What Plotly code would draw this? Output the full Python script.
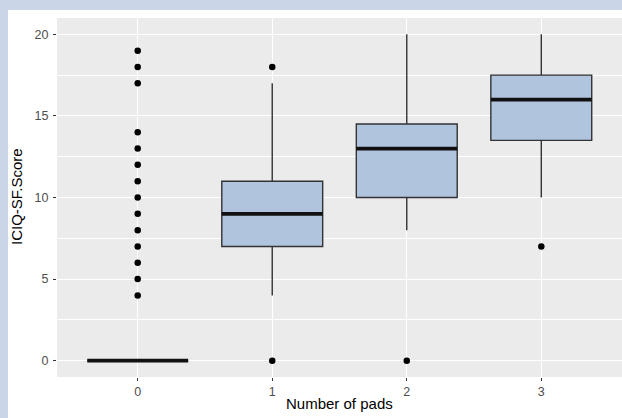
import plotly.graph_objects as go

categories = [0, 1, 2, 3]
tick_labels = ["0", "1", "2", "3"]
q1 = [0, 7, 10, 13.5]
median = [0, 9, 13, 16]
q3 = [0, 11, 14.5, 17.5]
lower = [0, 4, 8, 10]
upper = [0, 17, 20, 20]
outliers = [
    [4, 5, 6, 7, 8, 9, 10, 11, 12, 13, 14, 17, 18, 19],
    [0, 18],
    [0],
    [7],
]
x_title = "Number of pads"
y_title = "ICIQ-SF.Score"

W, H = 622, 418
ML, MR, MT, MB = 57, 0, 18, 41
PW, PH = W - ML - MR, H - MT - MB
BOXW = 0.75
EDGE = "#333333"
FILL = "#B0C4DE"
BORDER = "#CBD5E8"

fig = go.Figure()
for i, c in enumerate(categories):
    fig.add_trace(go.Box(
        x=[c], q1=[q1[i]], median=[median[i]], q3=[q3[i]],
        lowerfence=[lower[i]], upperfence=[upper[i]],
        width=BOXW, fillcolor=FILL, line=dict(color=EDGE, width=1.4),
        whiskerwidth=0, boxpoints=False, showlegend=False, hoverinfo="skip",
    ))

mx, my = [], []
for i, c in enumerate(categories):
    mx += [c - BOXW / 2, c + BOXW / 2, None]
    my += [median[i], median[i], None]
fig.add_trace(go.Scatter(x=mx, y=my, mode="lines",
                         line=dict(color="#111111", width=3.8),
                         showlegend=False, hoverinfo="skip"))

ox, oy = [], []
for i, c in enumerate(categories):
    ox += [c] * len(outliers[i])
    oy += outliers[i]
fig.add_trace(go.Scatter(x=ox, y=oy, mode="markers",
                         marker=dict(color="black", size=6.5),
                         showlegend=False, hoverinfo="skip"))

# light-blue frame strips (top and left)
fig.add_shape(type="rect", xref="paper", yref="paper", layer="above",
              x0=-ML / PW, x1=(W - ML) / PW, y0=1 + (MT - 10) / PH, y1=1 + MT / PH,
              fillcolor=BORDER, line=dict(width=0))
fig.add_shape(type="rect", xref="paper", yref="paper", layer="above",
              x0=-ML / PW, x1=-(ML - 8) / PW, y0=-MB / PH, y1=1 + MT / PH,
              fillcolor=BORDER, line=dict(width=0))

# axis titles
fig.add_annotation(text=x_title, xref="paper", yref="paper", x=0.5,
                   y=-(403 - (MT + PH)) / PH, xanchor="center", yanchor="middle",
                   showarrow=False, font=dict(size=15, color="black"))
fig.add_annotation(text=y_title, xref="paper", yref="paper", x=-(ML - 16) / PW,
                   y=1 - (197 - MT) / PH, xanchor="center", yanchor="middle",
                   textangle=-90, showarrow=False, font=dict(size=15, color="black"))

fig.update_layout(
    width=W, height=H,
    margin=dict(l=ML, r=MR, t=MT, b=MB, pad=0),
    paper_bgcolor="white", plot_bgcolor="#EBEBEB",
    font=dict(family="Liberation Sans, Arial, sans-serif", color="#4D4D4D", size=12),
    showlegend=False,
    xaxis=dict(
        range=[-0.6, 3.6], tickmode="array", tickvals=categories, ticktext=tick_labels,
        showgrid=True, gridcolor="white", gridwidth=1.1, zeroline=False,
        ticks="outside", ticklen=3, tickcolor="#333333", tickwidth=1,
        tickfont=dict(size=12.5, color="#4D4D4D"),
    ),
    yaxis=dict(
        range=[-1, 21], tickmode="array", tickvals=[0, 5, 10, 15, 20],
        showgrid=True, gridcolor="white", gridwidth=1.1, zeroline=False,
        ticks="outside", ticklen=3, tickcolor="#333333", tickwidth=1,
        ticklabelstandoff=2,
        tickfont=dict(size=12.5, color="#4D4D4D"),
        minor=dict(tickvals=[2.5, 7.5, 12.5, 17.5], showgrid=True,
                   gridcolor="white", gridwidth=0.5, ticks=""),
    ),
)

fig.write_html("out.html", config={"displayModeBar": False},
               post_script="document.body.style.margin='0px';document.body.style.overflow='hidden';")
